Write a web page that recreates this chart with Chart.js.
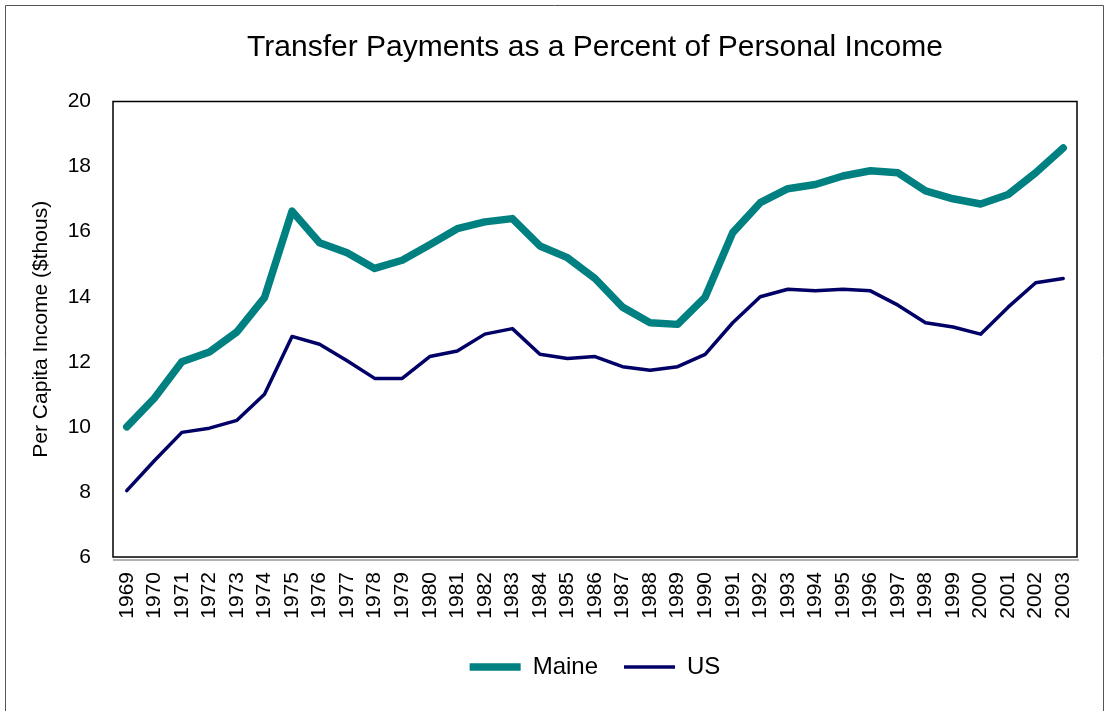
<!DOCTYPE html>
<html>
<head>
<meta charset="utf-8">
<script src="https://cdn.jsdelivr.net/npm/chart.js@4"></script>
<style>
  html, body { margin: 0; padding: 0; background: #fff; }
  #wrap { width: 1106px; height: 711px; }
</style>
</head>
<body>
<div id="wrap"><canvas id="my-chart" width="1106" height="711"></canvas></div>
<script>
// années et valeurs
const years = ['1969','1970','1971','1972','1973','1974','1975','1976','1977','1978',
  '1979','1980','1981','1982','1983','1984','1985','1986','1987','1988',
  '1989','1990','1991','1992','1993','1994','1995','1996','1997','1998',
  '1999','2000','2001','2002','2003'];

const maineValues = [10.0, 10.88, 12.0, 12.3, 12.92, 13.97, 16.63, 15.66, 15.35, 14.87,
  15.12, 15.6, 16.09, 16.3, 16.4, 15.56, 15.2, 14.56, 13.68, 13.2,
  13.15, 13.99, 15.97, 16.89, 17.32, 17.45, 17.71, 17.87, 17.81, 17.25,
  17.01, 16.85, 17.14, 17.81, 18.57];

const usValues = [8.04, 8.96, 9.83, 9.96, 10.2, 11.0, 12.78, 12.54, 12.03, 11.49,
  11.49, 12.16, 12.33, 12.85, 13.02, 12.23, 12.1, 12.16, 11.85, 11.74,
  11.85, 12.23, 13.2, 14.0, 14.23, 14.18, 14.23, 14.18, 13.74, 13.2,
  13.07, 12.85, 13.68, 14.43, 14.56];

const yMin = 6;
const yMax = 20;
const yStep = 2;

const fontFamily = '"Liberation Sans", Arial, sans-serif';

// cadre de la zone de tracé + bordure extérieure
const framePlugin = {
  id: 'frame',
  afterDraw(chart) {
    const ctx = chart.ctx;
    const a = chart.chartArea;
    ctx.save();
    ctx.strokeStyle = '#555';
    ctx.lineWidth = 1;
    ctx.beginPath();
    ctx.moveTo(5.5, 720);
    ctx.lineTo(5.5, 5.5);
    ctx.lineTo(1103.5, 5.5);
    ctx.lineTo(1103.5, 720);
    ctx.stroke();

    ctx.strokeStyle = '#000';
    ctx.lineWidth = 1.5;
    ctx.strokeRect(a.left, a.top, a.right - a.left, a.bottom - a.top);

    ctx.strokeStyle = '#999';
    ctx.lineWidth = 1.5;
    ctx.beginPath();
    ctx.moveTo(a.left, a.bottom + 3);
    ctx.lineTo(a.right + 2, a.bottom + 3);
    ctx.stroke();
    ctx.restore();
  }
};

new Chart(document.querySelector('#my-chart'), {
  type: 'line',
  data: {
    labels: years,
    datasets: [
      {
        label: 'Maine',
        data: maineValues,
        borderColor: '#008080',
        backgroundColor: '#008080',
        borderWidth: 7.5,
        borderCapStyle: 'round',
        borderJoinStyle: 'round',
        pointRadius: 0,
        tension: 0
      },
      {
        label: 'US',
        data: usValues,
        borderColor: '#000066',
        backgroundColor: '#000066',
        borderWidth: 3.5,
        borderCapStyle: 'round',
        borderJoinStyle: 'round',
        pointRadius: 0,
        tension: 0
      }
    ]
  },
  options: {
    responsive: false,
    animation: false,
    devicePixelRatio: 1,
    layout: { padding: { left: 0, right: 29, top: 0, bottom: 22 } },
    plugins: {
      title: {
        display: true,
        text: 'Transfer Payments as a Percent of Personal Income',
        color: '#000',
        fullSize: false,
        font: { family: fontFamily, size: 30, weight: 'normal' },
        padding: { top: 30, bottom: 35.5 }
      },
      legend: {
        position: 'bottom',
        fullSize: false,
        labels: {
          color: '#000',
          font: { family: fontFamily, size: 24 },
          usePointStyle: true,
          pointStyle: 'line',
          pointStyleWidth: 51,
          padding: 26
        }
      },
      tooltip: { enabled: false }
    },
    scales: {
      x: {
        type: 'category',
        offset: true,
        grid: { display: false, drawTicks: false },
        border: { display: false },
        ticks: {
          color: '#000',
          font: { family: fontFamily, size: 21 },
          minRotation: 90,
          maxRotation: 90,
          autoSkip: false,
          padding: 15
        },
        afterFit(scale) { scale.height = 72; }
      },
      y: {
        min: yMin,
        max: yMax,
        grid: { display: false, drawTicks: false },
        border: { display: false },
        ticks: {
          stepSize: yStep,
          color: '#000',
          font: { family: fontFamily, size: 21 },
          padding: 22
        },
        title: {
          display: true,
          text: 'Per Capita Income ($thous)',
          color: '#000',
          font: { family: fontFamily, size: 21 },
          padding: { top: 29, bottom: 0 }
        },
        afterFit(scale) { scale.width = 113; }
      }
    }
  },
  plugins: [framePlugin]
});
</script>
</body>
</html>
